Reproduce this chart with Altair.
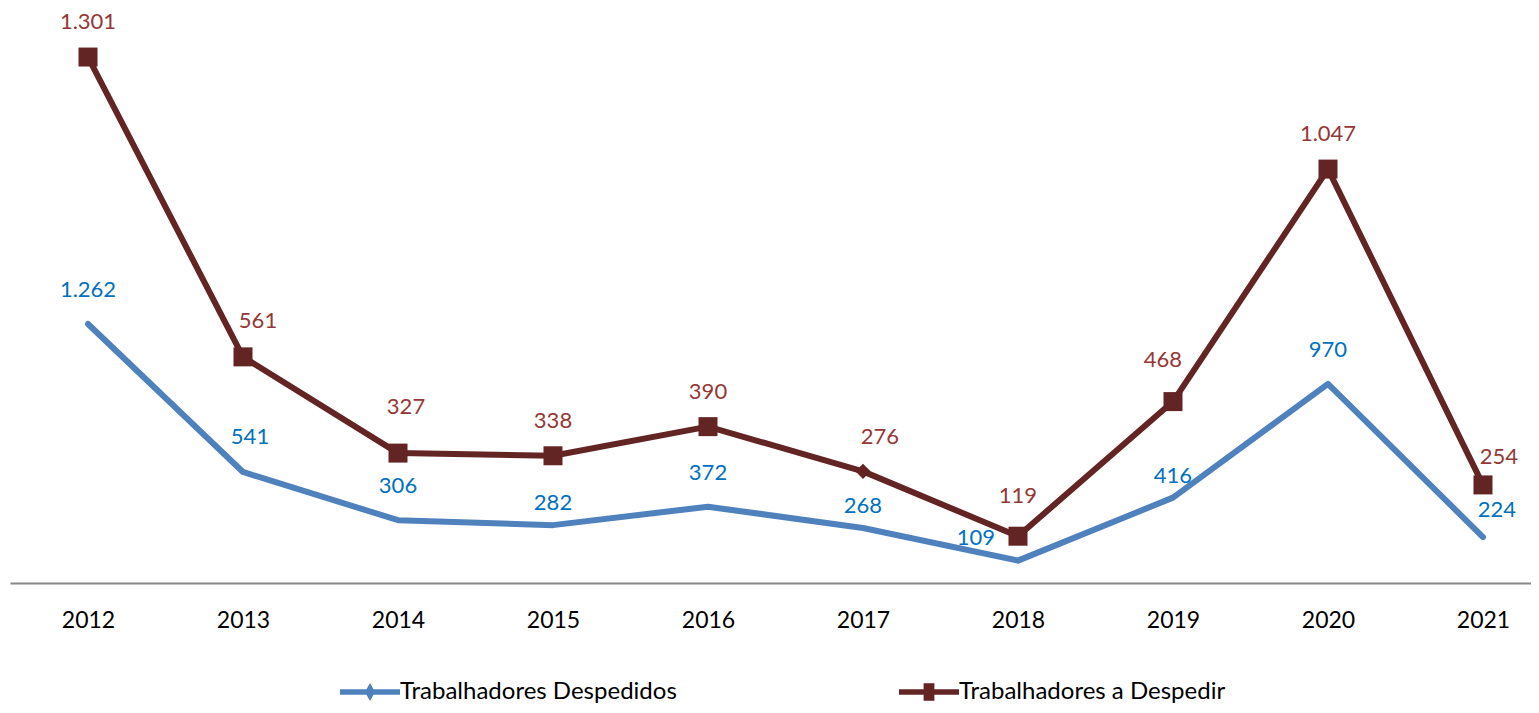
import altair as alt
import pandas as pd

years = ["2012", "2013", "2014", "2015", "2016", "2017", "2018", "2019", "2020", "2021"]
despedidos = [1262, 541, 306, 282, 372, 268, 109, 416, 970, 224]
a_despedir = [1301, 561, 327, 338, 390, 276, 119, 468, 1047, 254]
series_names = ["Trabalhadores Despedidos", "Trabalhadores a Despedir"]

BLUE_LINE = "#4F81BD"
RED_LINE = "#632523"
BLUE_TXT = "#0070C0"
RED_TXT = "#953735"
FONT = "Lato"


def fmt(v):
    return f"{v:,}".replace(",", ".")


df = pd.DataFrame({
    "year": years,
    "desp": despedidos,
    "adesp": a_despedir,
})
df["top"] = df["desp"] + df["adesp"]
df["lab_d"] = [fmt(v) for v in despedidos]
df["lab_a"] = [fmt(v) for v in a_despedir]

base = alt.Chart(df)

x = alt.X("year:O", axis=alt.Axis(
    title=None, domainColor="#868686", domainWidth=2, ticks=False, grid=False,
    labelAngle=0, labelFont=FONT, labelFontSize=23, labelColor="#000000",
    labelPadding=26),
    scale=alt.Scale(type="point", padding=0.4065, align=0.619))
yscale = alt.Scale(domain=[0, 2802], nice=False, zero=True)

line_blue = base.mark_line(color=BLUE_LINE, strokeWidth=6, strokeCap="round", strokeJoin="round").encode(
    x=x, y=alt.Y("desp:Q", scale=yscale, axis=None))
line_red = base.mark_line(color=RED_LINE, strokeWidth=6, strokeCap="round", strokeJoin="round").encode(
    x=x, y=alt.Y("top:Q", scale=yscale, axis=None))

pts_sq = base.transform_filter("datum.year != '2017'").mark_point(
    shape="square", filled=True, color=RED_LINE, opacity=1, size=361).encode(
    x=x, y=alt.Y("top:Q", scale=yscale, axis=None))
pts_dm = base.transform_filter("datum.year == '2017'").mark_point(
    shape="diamond", filled=True, color=RED_LINE, opacity=1, size=230).encode(
    x=x, y=alt.Y("top:Q", scale=yscale, axis=None))

# legend symbols: line with marker (custom paths in unit square)
leg_blue = "M-1,-0.09L1,-0.09L1,0.09L-1,0.09Z M0,-0.3L0.17,0L0,0.3L-0.17,0Z"
leg_red = "M-1,-0.09L1,-0.09L1,0.09L-1,0.09Z M-0.18,-0.29L0.18,-0.29L0.18,0.29L-0.18,0.29Z"

legend_df = pd.DataFrame({"series": series_names, "year": [years[0], years[0]], "v": [0, 0]})
legend_layer = alt.Chart(legend_df).mark_point(filled=True, opacity=1, size=1).encode(
    x=x, y=alt.Y("v:Q", scale=yscale, axis=None),
    color=alt.Color("series:N", scale=alt.Scale(domain=series_names, range=[BLUE_LINE, RED_LINE]),
                    legend=alt.Legend(
                        title=None, orient="none", direction="horizontal",
                        legendX=330, legendY=654, padding=0,
                        symbolSize=3600, symbolOpacity=1, symbolStrokeWidth=0,
                        labelFont=FONT, labelFontSize=24, labelColor="#000000",
                        labelOffset=0, columnPadding=222, labelLimit=0)),
    shape=alt.Shape("series:N", scale=alt.Scale(domain=series_names, range=[leg_blue, leg_red])),
)


def labels(field, yfield, color, subset, dx, dy):
    cond = " || ".join(f"datum.year == '{s}'" for s in subset)
    return base.transform_filter(cond).mark_text(
        font=FONT, fontSize=22, color=color, align="center", baseline="middle", dx=dx, dy=dy
    ).encode(x=x, y=alt.Y(f"{yfield}:Q", scale=yscale, axis=None), text=f"{field}:N")


blue_specs = [
    (["2012", "2014", "2016", "2020"], 0, -34),
    (["2013"], 7, -35),
    (["2015", "2017", "2019"], 0, -22),
    (["2018"], -42, -23),
    (["2021"], 14, -27),
]
red_specs = [
    (["2012", "2015", "2016", "2020"], 0, -35),
    (["2013"], 15, -36),
    (["2014"], 8, -46),
    (["2018"], 0, -40),
    (["2019"], -10, -42),
    (["2017"], 17, -34),
    (["2021"], 16, -28),
]

layers = [line_blue, line_red, pts_sq, pts_dm, legend_layer]
layers += [labels("lab_d", "desp", BLUE_TXT, s, dx, dy) for s, dx, dy in blue_specs]
layers += [labels("lab_a", "top", RED_TXT, s, dx, dy) for s, dx, dy in red_specs]

chart = alt.layer(*layers).properties(
    width=1521, height=575,
    autosize="none",
    padding={"left": 2, "top": 0, "right": 0, "bottom": 122},
).configure(background="#ffffff", view=alt.ViewConfig(strokeWidth=0))

chart.save("out.html", embed_options={"renderer": "svg", "actions": False})
